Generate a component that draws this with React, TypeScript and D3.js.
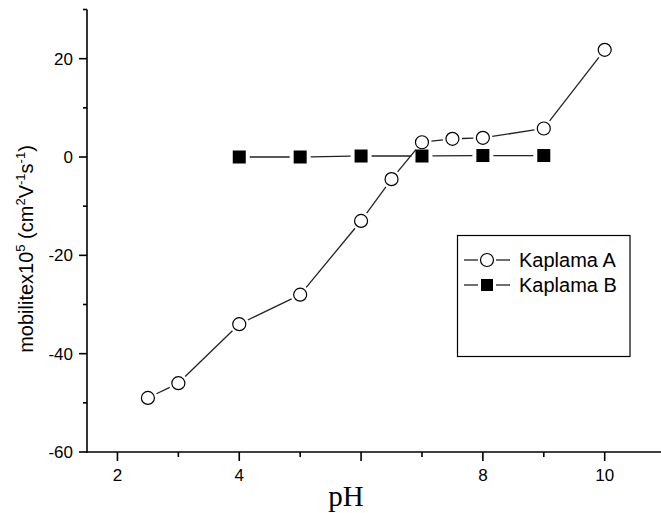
import React, { useEffect, useRef } from "react";
import * as d3 from "d3";

const phA = [2.5, 3, 4, 5, 6, 6.5, 7, 7.5, 8, 9, 10];
const mobilityA = [-49, -46, -34, -28, -13, -4.5, 3, 3.7, 3.9, 5.8, 21.8];
const phB = [4, 5, 6, 7, 8, 9];
const mobilityB = [0, 0, 0.2, 0.2, 0.3, 0.3];
const xTickLabels = [2, 4, 8, 10];
const yTickLabels = [-60, -40, -20, 0, 20];
const seriesNames = ["Kaplama A", "Kaplama B"];

const W = 661;
const H = 513;

// line segments that stop short of the markers, Origin style
function gappedSegments(pts: [number, number][], gap: number) {
  const segs: [number, number, number, number][] = [];
  for (let i = 0; i < pts.length - 1; i++) {
    const [x1, y1] = pts[i];
    const [x2, y2] = pts[i + 1];
    const len = Math.hypot(x2 - x1, y2 - y1);
    if (len <= gap * 2) continue;
    const ux = (x2 - x1) / len;
    const uy = (y2 - y1) / len;
    segs.push([x1 + ux * gap, y1 + uy * gap, x2 - ux * gap, y2 - uy * gap]);
  }
  return segs;
}

function drawChart(svgEl: SVGSVGElement) {
  const svg = d3.select(svgEl);
  svg.selectAll("*").remove();

  const x = d3.scaleLinear().domain([1.5, 11]).range([87, 665.6]);
  const y = d3.scaleLinear().domain([-60, 30]).range([452, 9.5]);
  const font = "Arial, 'Liberation Sans', sans-serif";

  // axes
  const axes = svg.append("g").attr("stroke", "#000").attr("stroke-width", 1.6);
  axes.append("line").attr("x1", 87).attr("x2", 87).attr("y1", y(30)).attr("y2", y(-60) + 0.8);
  axes.append("line").attr("x1", 86.2).attr("x2", W).attr("y1", y(-60)).attr("y2", y(-60));

  const xMajor = d3.range(2, 11, 2);
  const xMinor = d3.range(3, 11, 2);
  axes.selectAll(".xmaj").data(xMajor).enter().append("line")
    .attr("x1", (d) => x(d)).attr("x2", (d) => x(d))
    .attr("y1", y(-60)).attr("y2", y(-60) + 9);
  axes.selectAll(".xmin").data(xMinor).enter().append("line")
    .attr("x1", (d) => x(d)).attr("x2", (d) => x(d))
    .attr("y1", y(-60)).attr("y2", y(-60) + 5);

  const yMajor = d3.range(-60, 21, 20);
  const yMinor = d3.range(-50, 31, 20);
  axes.selectAll(".ymaj").data(yMajor).enter().append("line")
    .attr("x1", 87).attr("x2", 79)
    .attr("y1", (d) => y(d)).attr("y2", (d) => y(d));
  axes.selectAll(".ymin").data(yMinor).enter().append("line")
    .attr("x1", 87).attr("x2", 83)
    .attr("y1", (d) => y(d)).attr("y2", (d) => y(d));

  svg.append("g").selectAll("text").data(xTickLabels).enter().append("text")
    .attr("x", (d) => x(d)).attr("y", 480.5)
    .attr("text-anchor", "middle").attr("font-family", font).attr("font-size", 17)
    .text((d) => d);
  svg.append("g").selectAll("text").data(yTickLabels).enter().append("text")
    .attr("x", 73).attr("y", (d) => y(d) + 6)
    .attr("text-anchor", "end").attr("font-family", font).attr("font-size", 17)
    .text((d) => d);

  // axis titles
  svg.append("text")
    .attr("x", 346).attr("y", 506)
    .attr("text-anchor", "middle")
    .attr("font-family", "'Times New Roman', 'Liberation Serif', serif")
    .attr("font-size", 29)
    .text("pH");

  const yTitle = svg.append("text")
    .attr("transform", "translate(33,249) rotate(-90)")
    .attr("text-anchor", "middle")
    .attr("font-family", font).attr("font-size", 20);
  const parts: [string, boolean][] = [
    ["mobilitex10", false], ["5", true], [" (cm", false], ["2", true],
    ["V", false], ["-1", true], ["s", false], ["-1", true], [")", false],
  ];
  parts.forEach(([t, sup], i) => {
    const prevSup = i > 0 && parts[i - 1][1];
    const dy = sup ? -8 : prevSup ? 8 : 0;
    yTitle.append("tspan")
      .attr("dy", dy)
      .attr("font-size", sup ? 13 : 20)
      .text(t);
  });

  // series A
  const ptsA: [number, number][] = phA.map((p, i) => [x(p), y(mobilityA[i])]);
  const ptsB: [number, number][] = phB.map((p, i) => [x(p), y(mobilityB[i])]);

  const lineG = svg.append("g").attr("stroke", "#222").attr("stroke-width", 1.3);
  lineG.selectAll(".lb").data(gappedSegments(ptsB, 10.5)).enter().append("line")
    .attr("x1", (d) => d[0]).attr("y1", (d) => d[1]).attr("x2", (d) => d[2]).attr("y2", (d) => d[3]);
  lineG.selectAll(".la").data(gappedSegments(ptsA, 9.5)).enter().append("line")
    .attr("x1", (d) => d[0]).attr("y1", (d) => d[1]).attr("x2", (d) => d[2]).attr("y2", (d) => d[3]);

  svg.append("g").selectAll("rect").data(ptsB).enter().append("rect")
    .attr("x", (d) => d[0] - 6.5).attr("y", (d) => d[1] - 6.5)
    .attr("width", 13).attr("height", 13).attr("fill", "#000");
  svg.append("g").selectAll("circle").data(ptsA).enter().append("circle")
    .attr("cx", (d) => d[0]).attr("cy", (d) => d[1]).attr("r", 6.5)
    .attr("fill", "#fff").attr("stroke", "#000").attr("stroke-width", 1.2);

  // legend
  const lg = svg.append("g");
  lg.append("rect")
    .attr("x", 457.5).attr("y", 235.5).attr("width", 172.5).attr("height", 121)
    .attr("fill", "#fff").attr("stroke", "#000").attr("stroke-width", 1.2);
  seriesNames.forEach((name, i) => {
    const cy = 260 + i * 25;
    lg.append("line").attr("x1", 464).attr("x2", 478).attr("y1", cy).attr("y2", cy)
      .attr("stroke", "#222").attr("stroke-width", 1.3);
    lg.append("line").attr("x1", 496).attr("x2", 510).attr("y1", cy).attr("y2", cy)
      .attr("stroke", "#222").attr("stroke-width", 1.3);
    if (i === 0) {
      lg.append("circle").attr("cx", 487).attr("cy", cy).attr("r", 6.5)
        .attr("fill", "#fff").attr("stroke", "#000").attr("stroke-width", 1.2);
    } else {
      lg.append("rect").attr("x", 481).attr("y", cy - 6).attr("width", 12).attr("height", 12)
        .attr("fill", "#000");
    }
    lg.append("text").attr("x", 519).attr("y", cy + 7)
      .attr("font-family", font).attr("font-size", 20).text(name);
  });
}

export default function App() {
  const svgEl = useRef<SVGSVGElement>(null);

  useEffect(() => {
    if (!svgEl.current) return;
    drawChart(svgEl.current);
  }, []);

  return (
    <svg
      ref={svgEl}
      width={W}
      height={H}
      style={{ position: "absolute", left: 0, top: 0, background: "#fff" }}
    />
  );
}
